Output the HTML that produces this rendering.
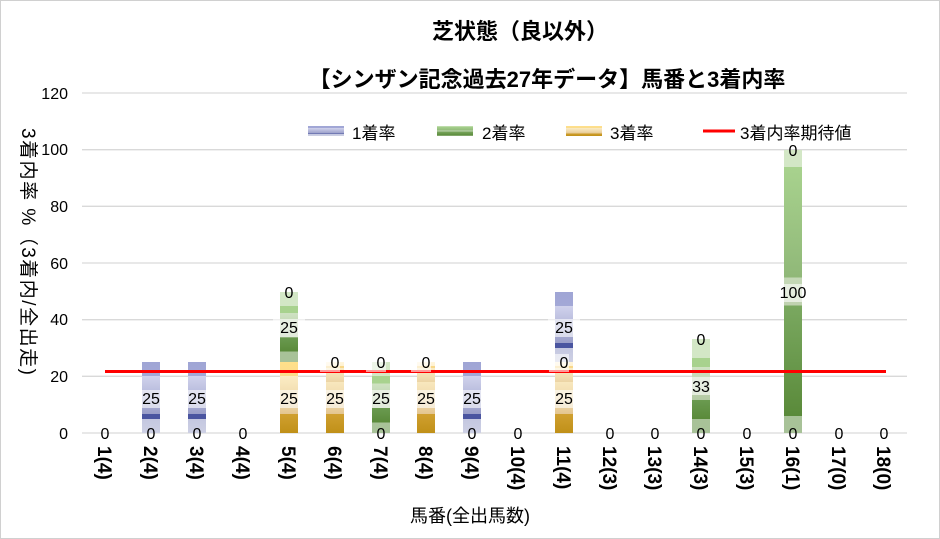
<!DOCTYPE html>
<html><head><meta charset="utf-8"><style>
body{margin:0;background:#fff}
svg{display:block;font-family:"Liberation Sans","Noto Sans CJK JP",sans-serif}
</style></head><body>
<svg width="940" height="539" viewBox="0 0 940 539" xmlns="http://www.w3.org/2000/svg">
<defs>
<linearGradient id="gb" x1="0" y1="0" x2="0" y2="1">
<stop offset="0" stop-color="#9fa5d5"/><stop offset="0.2" stop-color="#a3a8d6"/><stop offset="0.2" stop-color="#d0d2ec"/><stop offset="0.6" stop-color="#a8acd2"/><stop offset="0.73" stop-color="#9a9ec8"/><stop offset="0.73" stop-color="#4a55a0"/><stop offset="0.8" stop-color="#4a55a0"/><stop offset="0.8" stop-color="#c4c7e0"/><stop offset="1" stop-color="#cdd0e4"/>
</linearGradient>
<linearGradient id="gy" x1="0" y1="0" x2="0" y2="1">
<stop offset="0" stop-color="#ffe08a"/><stop offset="0.2" stop-color="#fbdc8c"/><stop offset="0.2" stop-color="#fbecc4"/><stop offset="0.6" stop-color="#ecd4a4"/><stop offset="0.73" stop-color="#e4c690"/><stop offset="0.73" stop-color="#d0a030"/><stop offset="1" stop-color="#c09018"/>
</linearGradient>
<linearGradient id="gy2" x1="0" y1="0" x2="0" y2="1">
<stop offset="0" stop-color="#fff6dc"/><stop offset="0.2" stop-color="#fff2d0"/><stop offset="0.2" stop-color="#f8d88a"/><stop offset="0.3" stop-color="#f8d88a"/><stop offset="0.3" stop-color="#fbecc4"/><stop offset="1" stop-color="#ecd4a4"/>
</linearGradient>
<linearGradient id="gg" x1="0" y1="0" x2="0" y2="1">
<stop offset="0" stop-color="#d3e7c6"/><stop offset="0.06" stop-color="#d3e7c6"/><stop offset="0.06" stop-color="#a8d28e"/><stop offset="0.45" stop-color="#90b878"/><stop offset="0.45" stop-color="#c4d8b6"/><stop offset="0.55" stop-color="#c0d2b0"/><stop offset="0.55" stop-color="#7aa860"/><stop offset="0.94" stop-color="#5a8a3a"/><stop offset="0.94" stop-color="#a8c298"/><stop offset="1" stop-color="#a8c298"/>
</linearGradient>
<linearGradient id="gg2" x1="0" y1="0" x2="0" y2="1">
<stop offset="0" stop-color="#d3e7c6"/><stop offset="0.2" stop-color="#d3e7c6"/><stop offset="0.2" stop-color="#a8d28e"/><stop offset="0.3" stop-color="#a8d28e"/><stop offset="0.3" stop-color="#cfe2c2"/><stop offset="0.65" stop-color="#b4caa4"/><stop offset="0.65" stop-color="#6a9a50"/><stop offset="0.85" stop-color="#5a8a3a"/><stop offset="0.85" stop-color="#a8c298"/><stop offset="1" stop-color="#a8c298"/>
</linearGradient>
</defs>
<rect x="0.5" y="0.5" width="939" height="538" fill="#fff" stroke="#d0d0d0"/>
<text x="520" y="39" text-anchor="middle" font-size="22" font-weight="bold">芝状態（良以外）</text>
<text x="547" y="87" text-anchor="middle" font-size="22" font-weight="bold">【シンザン記念過去27年データ】馬番と3着内率</text>
<!-- legend -->
<rect x="308" y="126" width="36" height="10" fill="url(#gb)"/><text x="352" y="139" font-size="17">1着率</text>
<rect x="437" y="126" width="36" height="10" fill="url(#gg)"/><text x="482" y="139" font-size="17">2着率</text>
<rect x="566" y="126" width="36" height="10" fill="url(#gy)"/><text x="610" y="139" font-size="17">3着率</text>
<line x1="703" y1="131" x2="735" y2="131" stroke="#f00" stroke-width="3"/><text x="740" y="139" font-size="17">3着内率期待値</text>
<!-- grid -->
<g stroke="#d9d9d9" stroke-width="1.3">
<line x1="82" y1="433" x2="907" y2="433"/><line x1="82" y1="376.3" x2="907" y2="376.3"/><line x1="82" y1="319.7" x2="907" y2="319.7"/><line x1="82" y1="263" x2="907" y2="263"/><line x1="82" y1="206.3" x2="907" y2="206.3"/><line x1="82" y1="149.7" x2="907" y2="149.7"/><line x1="82" y1="93" x2="907" y2="93"/>
</g>
<g font-size="16" text-anchor="end">
<text x="68" y="439">0</text><text x="68" y="382">20</text><text x="68" y="325">40</text><text x="68" y="269">60</text><text x="68" y="212">80</text><text x="68" y="155">100</text><text x="68" y="99">120</text>
</g>
<text transform="translate(22,128) rotate(90)" font-size="19" letter-spacing="1.5">3着内率 %（3着内/全出走)</text>
<rect x="142" y="362" width="18" height="71" fill="url(#gb)"/>
<rect x="188" y="362" width="18" height="71" fill="url(#gb)"/>
<rect x="280" y="362" width="18" height="71" fill="url(#gy)"/>
<rect x="280" y="292" width="18" height="70" fill="url(#gg2)"/>
<rect x="326" y="362" width="18" height="71" fill="url(#gy)"/>
<rect x="326" y="362" width="18" height="20" fill="url(#gy2)"/>
<rect x="372" y="362" width="18" height="71" fill="url(#gg2)"/>
<rect x="417" y="362" width="18" height="71" fill="url(#gy)"/>
<rect x="417" y="362" width="18" height="20" fill="url(#gy2)"/>
<rect x="463" y="362" width="18" height="71" fill="url(#gb)"/>
<rect x="555" y="362" width="18" height="71" fill="url(#gy)"/>
<rect x="555" y="362" width="18" height="20" fill="url(#gy2)"/>
<rect x="555" y="292" width="18" height="70" fill="url(#gb)"/>
<rect x="692" y="339" width="18" height="94" fill="url(#gg2)"/>
<rect x="784" y="150" width="18" height="283" fill="url(#gg)"/>
<line x1="105" y1="371.5" x2="886" y2="371.5" stroke="#f00" stroke-width="3"/>
<g font-size="16" text-anchor="middle">
<g fill="#fff" opacity="0.6">
<rect x="135" y="390" width="32" height="18"/><rect x="181" y="390" width="32" height="18"/><rect x="273" y="390" width="32" height="18"/><rect x="273" y="319" width="32" height="18"/><rect x="319" y="390" width="32" height="18"/><rect x="365" y="390" width="32" height="18"/><rect x="410" y="390" width="32" height="18"/><rect x="456" y="390" width="32" height="18"/><rect x="548" y="390" width="32" height="18"/><rect x="548" y="319" width="32" height="18"/><rect x="685" y="377" width="32" height="18"/><rect x="773" y="284" width="40" height="18"/>
<rect x="320" y="354" width="20" height="18"/><rect x="366" y="354" width="20" height="18"/><rect x="411" y="354" width="20" height="18"/><rect x="549" y="354" width="20" height="18"/>
</g>
<text x="105" y="439">0</text><text x="151" y="439">0</text><text x="197" y="439">0</text><text x="243" y="439">0</text><text x="381" y="439">0</text><text x="472" y="439">0</text><text x="518" y="439">0</text><text x="610" y="439">0</text><text x="655" y="439">0</text><text x="701" y="439">0</text><text x="747" y="439">0</text><text x="793" y="439">0</text><text x="839" y="439">0</text><text x="884" y="439">0</text>
<text x="151" y="404">25</text><text x="197" y="404">25</text><text x="289" y="404">25</text><text x="335" y="404">25</text><text x="381" y="404">25</text><text x="426" y="404">25</text><text x="472" y="404">25</text><text x="564" y="404">25</text>
<text x="289" y="333">25</text><text x="564" y="333">25</text><text x="289" y="298">0</text>
<text x="335" y="368">0</text><text x="381" y="368">0</text><text x="426" y="368">0</text><text x="564" y="368">0</text>
<text x="701" y="392">33</text><text x="701" y="345">0</text><text x="793" y="298">100</text><text x="793" y="156">0</text>
</g>
<g font-size="19" font-weight="bold">
<text transform="translate(98,446) rotate(90)">1(4)</text>
<text transform="translate(144,446) rotate(90)">2(4)</text>
<text transform="translate(190,446) rotate(90)">3(4)</text>
<text transform="translate(236,446) rotate(90)">4(4)</text>
<text transform="translate(282,446) rotate(90)">5(4)</text>
<text transform="translate(328,446) rotate(90)">6(4)</text>
<text transform="translate(374,446) rotate(90)">7(4)</text>
<text transform="translate(419,446) rotate(90)">8(4)</text>
<text transform="translate(465,446) rotate(90)">9(4)</text>
<text transform="translate(511,446) rotate(90)">10(4)</text>
<text transform="translate(557,446) rotate(90)">11(4)</text>
<text transform="translate(603,446) rotate(90)">12(3)</text>
<text transform="translate(648,446) rotate(90)">13(3)</text>
<text transform="translate(694,446) rotate(90)">14(3)</text>
<text transform="translate(740,446) rotate(90)">15(3)</text>
<text transform="translate(786,446) rotate(90)">16(1)</text>
<text transform="translate(832,446) rotate(90)">17(0)</text>
<text transform="translate(877,446) rotate(90)">18(0)</text>
</g>
<text x="470" y="522" text-anchor="middle" font-size="18">馬番(全出馬数)</text>
</svg>
</body></html>
